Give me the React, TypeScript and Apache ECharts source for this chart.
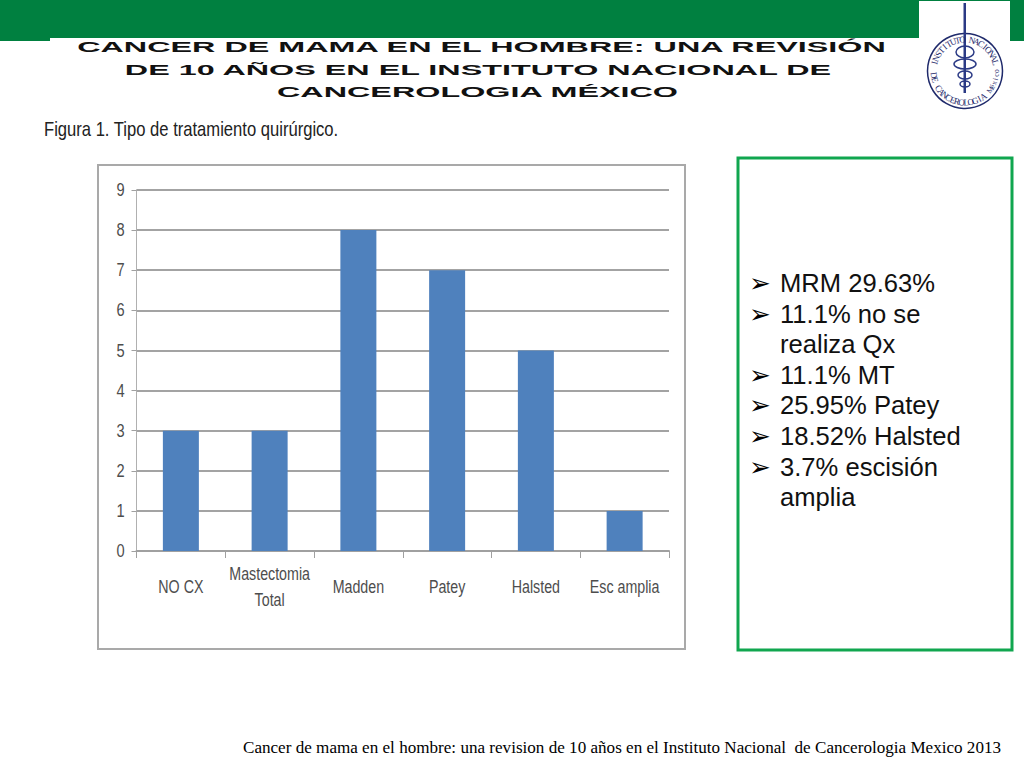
import React, { useEffect, useRef } from "react";
import * as echarts from "echarts";

const categories = ["NO CX", "Mastectomia\nTotal", "Madden", "Patey", "Halsted", "Esc amplia"];
const values = [3, 3, 8, 7, 5, 1];
const yTicks = [0, 1, 2, 3, 4, 5, 6, 7, 8, 9];
const titleLines = [
  "CANCER DE MAMA EN EL HOMBRE: UNA REVISIÓN",
  "DE 10 AÑOS EN EL INSTITUTO NACIONAL DE",
  "CANCEROLOGIA MÉXICO",
];
const caption = "Figura 1. Tipo de tratamiento quirúrgico.";
const footer = "Cancer de mama en el hombre: una revision de 10 años en el Instituto Nacional  de Cancerologia Mexico 2013";
const bulletLines = [
  ["➢", "MRM 29.63%"],
  ["➢", "11.1% no se"],
  ["", "realiza Qx"],
  ["➢", "11.1% MT"],
  ["➢", "25.95% Patey"],
  ["➢", "18.52% Halsted"],
  ["➢", "3.7% escisión"],
  ["", "amplia"],
];
const sealTop = "INSTITUTO NACIONAL";
const sealBottom = "DE CANCEROLOGIA";
const sealRight = "México";

const GREEN = "#008040";
const SANS = '"Liberation Sans", sans-serif';

function arcText(text: string, cx: number, cy: number, r: number, startDeg: number, stepDeg: number, inward: boolean, size: number) {
  return text.split("").map((ch, i) => {
    const deg = startDeg + i * stepDeg;
    const a = (deg * Math.PI) / 180;
    return {
      type: "text",
      x: cx + r * Math.sin(a),
      y: cy - r * Math.cos(a),
      rotation: inward ? -a : Math.PI - a,
      z: 6,
      silent: true,
      style: { text: ch, fontFamily: '"Liberation Serif", serif', fontSize: size, fill: "#1f2a6b", align: "center", verticalAlign: "middle" },
    };
  });
}

export default function App() {
  const ref = useRef<HTMLDivElement>(null);
  useEffect(() => {
    const chart = echarts.init(ref.current!, undefined, { renderer: "svg", width: 1024, height: 768 });
    const graphics: any[] = [
      { type: "rect", shape: { x: 0, y: 0, width: 1024, height: 38 }, style: { fill: GREEN }, z: 1 },
      { type: "rect", shape: { x: 0, y: 38, width: 50, height: 3 }, style: { fill: GREEN }, z: 1 },
      { type: "rect", shape: { x: 1010, y: 38, width: 14, height: 3 }, style: { fill: GREEN }, z: 1 },
      { type: "rect", shape: { x: 919, y: 1, width: 91, height: 110 }, style: { fill: "#ffffff" }, z: 2 },
      { type: "rect", shape: { x: 98, y: 165, width: 587, height: 484 }, style: { fill: "#ffffff", stroke: "#a9a9a9", lineWidth: 2 }, z: -1 },
      { type: "rect", shape: { x: 738, y: 158, width: 274, height: 492 }, style: { fill: "#ffffff", stroke: "#10a64f", lineWidth: 3 }, z: -1 },
      { type: "circle", shape: { cx: 965, cy: 71, r: 37.5 }, style: { fill: "#ffffff", stroke: "#1f2a6b", lineWidth: 1.5 }, z: 3 },
      { type: "rect", shape: { x: 963.5, y: 3, width: 2.5, height: 90 }, style: { fill: "#2b3a85" }, z: 5 },
      { type: "ellipse", shape: { cx: 965, cy: 52, rx: 9, ry: 6 }, style: { fill: "none", stroke: "#2b3a85", lineWidth: 1.5 }, z: 5 },
      { type: "ellipse", shape: { cx: 965, cy: 64, rx: 11, ry: 5 }, style: { fill: "none", stroke: "#2b3a85", lineWidth: 1.5 }, z: 5 },
      { type: "ellipse", shape: { cx: 965, cy: 75, rx: 7, ry: 4 }, style: { fill: "none", stroke: "#2b3a85", lineWidth: 1.5 }, z: 5 },
      { type: "ellipse", shape: { cx: 965, cy: 84, rx: 5, ry: 3 }, style: { fill: "none", stroke: "#2b3a85", lineWidth: 1.5 }, z: 5 },
      ...arcText(sealTop, 965, 71, 31.5, -75, 8.8, true, 9),
      ...arcText(sealBottom, 965, 71, 31.5, 262, -8.4, false, 9),
      ...arcText(sealRight, 965, 71, 31.5, 127, -7.4, false, 7.5),
      {
        type: "text", x: 44, y: 129, scaleX: 0.81, z: 4,
        style: { text: caption, fontFamily: SANS, fontSize: 20.5, fill: "#222222", verticalAlign: "middle" },
      },
      {
        type: "text", x: 243, y: 747, z: 4,
        style: { text: footer, fontFamily: '"Liberation Serif", serif', fontSize: 17.1, fill: "#000000", verticalAlign: "middle" },
      },
    ];
    const titleX = [481.5, 478, 477.5];
    const titleY = [47, 70, 92];
    titleLines.forEach((t, i) => {
      graphics.push({
        type: "text", x: titleX[i], y: titleY[i], scaleX: 2.23, z: 4,
        style: { text: t, fontFamily: SANS, fontWeight: "bold", fontSize: 14.5, fill: "#111111", align: "center", verticalAlign: "middle" },
      });
    });
    const bulletY = [283, 314, 344, 375, 405, 436, 467, 497];
    bulletLines.forEach(([b, t], i) => {
      if (b) {
        graphics.push({
          type: "text", x: 749, y: bulletY[i], z: 4,
          style: { text: b, fontFamily: '"DejaVu Sans", sans-serif', fontSize: 26, fill: "#000000", verticalAlign: "middle" },
        });
      }
      graphics.push({
        type: "text", x: 780, y: bulletY[i], z: 4,
        style: { text: t, fontFamily: SANS, fontSize: 25.6, fill: "#111111", verticalAlign: "middle" },
      });
    });

    chart.setOption({
      animation: false,
      backgroundColor: "#ffffff",
      grid: { left: 136.5, top: 190, width: 532.5, height: 361 },
      xAxis: {
        type: "category",
        data: categories,
        axisTick: { show: true, alignWithLabel: false, length: 7, lineStyle: { color: "#a0a0a0", width: 1 } },
        axisLine: { lineStyle: { color: "#a0a0a0", width: 2 } },
        axisLabel: { show: false },
      },
      yAxis: {
        type: "value",
        min: 0,
        max: 9,
        interval: 1,
        axisLine: { show: true, lineStyle: { color: "#b0b0b0", width: 1 } },
        axisTick: { show: true, length: 5, lineStyle: { color: "#a0a0a0", width: 1 } },
        axisLabel: { show: false },
        splitLine: { lineStyle: { color: "#a3a3a3", width: 2 } },
      },
      series: [
        {
          type: "bar",
          data: values,
          barWidth: 36,
          itemStyle: { color: "#4f81bd" },
        },
        {
          // category labels: narrowed text placed by the axis scale
          type: "custom",
          silent: true,
          data: categories.map((_, i) => [i, 0]),
          encode: { x: 0, y: 1 },
          renderItem: (params: any, api: any) => {
            const p = api.coord([api.value(0), 0]);
            return {
              type: "text",
              x: p[0],
              y: p[1] + 35,
              scaleX: 0.77,
              style: {
                text: categories[params.dataIndex],
                fontFamily: SANS, fontSize: 18.5, lineHeight: 26, fill: "#4d4d4d",
                align: "center", verticalAlign: "middle",
              },
            };
          },
        },
        {
          // value labels: narrowed text placed by the axis scale
          type: "custom",
          silent: true,
          data: yTicks.map((v) => [0, v]),
          encode: { x: 0, y: 1 },
          renderItem: (params: any, api: any) => {
            const p = api.coord([0, api.value(1)]);
            return {
              type: "text",
              x: params.coordSys.x - 16,
              y: p[1],
              scaleX: 0.77,
              style: {
                text: String(yTicks[params.dataIndex]),
                fontFamily: SANS, fontSize: 19, fill: "#4d4d4d",
                align: "center", verticalAlign: "middle",
              },
            };
          },
        },
      ],
      graphic: graphics,
    });
    return () => chart.dispose();
  }, []);
  return <div ref={ref} style={{ position: "absolute", left: 0, top: 0, width: 1024, height: 768 }} />;
}
